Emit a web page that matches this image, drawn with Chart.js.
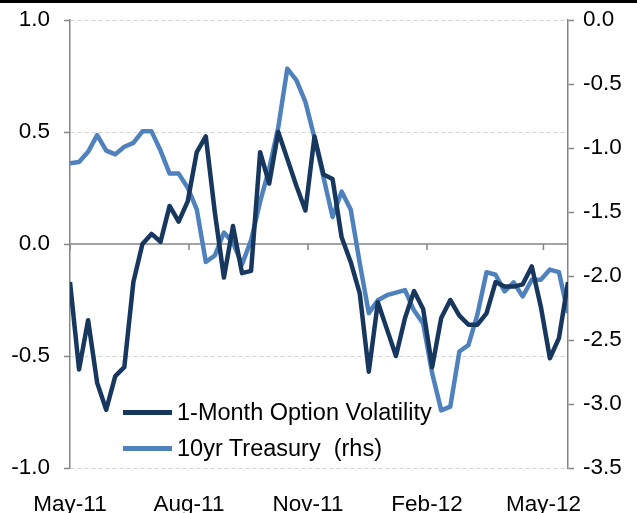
<!DOCTYPE html>
<html><head><meta charset="utf-8">
<script src="https://cdn.jsdelivr.net/npm/chart.js@4/dist/chart.umd.min.js"></script>
<style>
html,body{margin:0;padding:0;background:#fff;}
#wrap{position:relative;width:637px;height:513px;overflow:hidden;background:#fff;}
#topbar{position:absolute;left:0;top:0;width:637px;height:3px;background:#000;}
canvas{position:absolute;left:0;top:0;}
.item{position:absolute;left:123px;height:34px;display:flex;align-items:center;font-family:"Liberation Sans",Arial,sans-serif;font-size:23.5px;color:#000;white-space:pre;}
.sw{width:49px;height:5px;margin-right:5px;}
</style></head>
<body><div id="wrap"><canvas id="c" width="637" height="513"></canvas><div id="topbar"></div></div>
<script>
// weekly observation dates
const weekDates = ["2011-05-01","2011-05-08","2011-05-15","2011-05-22","2011-05-29",
"2011-06-05","2011-06-12","2011-06-19","2011-06-26",
"2011-07-03","2011-07-10","2011-07-17","2011-07-24","2011-07-31",
"2011-08-07","2011-08-14","2011-08-21","2011-08-28",
"2011-09-04","2011-09-11","2011-09-18","2011-09-25",
"2011-10-02","2011-10-09","2011-10-16","2011-10-23","2011-10-30",
"2011-11-06","2011-11-13","2011-11-20","2011-11-27",
"2011-12-04","2011-12-11","2011-12-18","2011-12-25",
"2012-01-01","2012-01-08","2012-01-15","2012-01-22","2012-01-29",
"2012-02-05","2012-02-12","2012-02-19","2012-02-26",
"2012-03-04","2012-03-11","2012-03-18","2012-03-25",
"2012-04-01","2012-04-08","2012-04-15","2012-04-22","2012-04-29",
"2012-05-06","2012-05-13","2012-05-20"];
const seriesNames = ["1-Month Option Volatility", "10yr Treasury  (rhs)"];
// left axis
const optionVol = [-0.17,-0.56,-0.34,-0.62,-0.74,-0.59,-0.55,-0.17,0.00,0.045,
0.01,0.17,0.10,0.19,0.41,0.48,0.14,-0.15,0.08,-0.13,
-0.12,0.41,0.27,0.50,0.38,0.26,0.15,0.48,0.31,0.29,
0.03,-0.08,-0.22,-0.57,-0.26,-0.38,-0.50,-0.33,-0.21,-0.29,
-0.55,-0.33,-0.25,-0.32,-0.36,-0.36,-0.31,-0.17,-0.19,-0.19,
-0.18,-0.10,-0.28,-0.51,-0.42,-0.17];
// right axis
const treasury10y = [-1.12,-1.11,-1.03,-0.90,-1.02,-1.05,-0.99,-0.96,-0.87,-0.87,
-1.02,-1.20,-1.20,-1.31,-1.48,-1.89,-1.84,-1.66,-1.74,-1.91,
-1.72,-1.42,-1.16,-0.84,-0.38,-0.47,-0.64,-0.92,-1.23,-1.54,
-1.34,-1.48,-1.90,-2.29,-2.19,-2.15,-2.13,-2.11,-2.27,-2.37,
-2.76,-3.05,-3.02,-2.59,-2.54,-2.30,-1.97,-1.99,-2.12,-2.05,
-2.16,-2.03,-2.03,-1.95,-1.97,-2.29];
const tickLabels = ["May-11","Aug-11","Nov-11","Feb-12","May-12"];
const tickDates = ["2011-05-01","2011-08-01","2011-11-01","2012-02-01","2012-05-01"];
const leftRange = [-1, 1, 0.5];
const rightRange = [-3.5, 0, 0.5];

const colors = ["#17375E", "#4F81BD"];
const DAY = 86400000;
const t0 = Date.parse(weekDates[0]);
const dayOf = d => (Date.parse(d) - t0) / DAY;
const xs = weekDates.map(dayOf);
const tickDays = tickDates.map(dayOf);
const FONT = "'Liberation Sans', Arial, sans-serif";
const AXIS = "#868686";

const zeroAxis = {
  id: 'zeroAxis',
  beforeDatasetsDraw(chart) {
    const {ctx, chartArea, scales} = chart;
    const y0 = scales.y.getPixelForValue(0);
    ctx.save();
    ctx.strokeStyle = AXIS;
    ctx.lineWidth = 1.5;
    ctx.beginPath();
    ctx.moveTo(chartArea.left, y0);
    ctx.lineTo(chartArea.right, y0);
    tickDays.forEach(d => {
      const px = scales.x.getPixelForValue(d);
      ctx.moveTo(px, y0);
      ctx.lineTo(px, y0 + 6);
    });
    ctx.stroke();
    ctx.restore();
  }
};

const fitY = w => a => { a.width = w; a.paddingTop = 0; a.paddingBottom = 0; };

new Chart(document.getElementById('c'), {
  type: 'line',
  data: {
    datasets: [
      {label: seriesNames[0], data: xs.map((x, i) => ({x, y: optionVol[i]})), yAxisID: 'y',
       borderColor: colors[0], borderWidth: 4.5, pointRadius: 0, tension: 0, borderJoinStyle: 'round'},
      {label: seriesNames[1], data: xs.map((x, i) => ({x, y: treasury10y[i]})), yAxisID: 'y2',
       borderColor: colors[1], borderWidth: 4.5, pointRadius: 0, tension: 0, borderJoinStyle: 'round'}
    ]
  },
  options: {
    responsive: false,
    animation: false,
    events: [],
    layout: {padding: {top: 20, left: 0, right: 0, bottom: 0}},
    plugins: {legend: {display: false}, tooltip: {enabled: false}},
    scales: {
      x: {
        type: 'linear', min: xs[0], max: xs[xs.length - 1],
        afterBuildTicks: a => { a.ticks = tickDays.map(v => ({value: v})); },
        afterFit: a => { a.height = 45; a.paddingLeft = 0; a.paddingRight = 0; },
        ticks: {autoSkip: false, maxRotation: 0, padding: 15, color: '#000',
          font: {family: FONT, size: 22.5},
          callback: v => tickLabels[tickDays.indexOf(v)] ?? ''},
        grid: {display: false}, border: {display: false}
      },
      y: {
        position: 'left', min: leftRange[0], max: leftRange[1],
        afterFit: fitY(70),
        ticks: {stepSize: leftRange[2], padding: 14, color: '#000', font: {family: FONT, size: 22.5},
          callback: v => Number(v).toFixed(1)},
        grid: {color: c => (c.tick && c.tick.value === 0) ? 'rgba(0,0,0,0)' : '#d3d3d3',
          lineWidth: 1, tickLength: 6, tickColor: AXIS, tickWidth: 1.5},
        border: {display: true, color: AXIS, width: 1.5, dash: [4, 3]}
      },
      y2: {
        position: 'right', min: rightRange[0], max: rightRange[1],
        afterFit: fitY(69),
        ticks: {stepSize: rightRange[2], padding: 9, color: '#000', font: {family: FONT, size: 22.5},
          callback: v => Number(v).toFixed(1)},
        grid: {drawOnChartArea: false, tickLength: 6, tickColor: AXIS, tickWidth: 1.5},
        border: {display: true, color: AXIS, width: 1.5}
      }
    }
  },
  plugins: [zeroAxis]
});

// legend built from the series names
const wrap = document.getElementById('wrap');
seriesNames.forEach((name, i) => {
  const it = document.createElement('div');
  it.className = 'item';
  it.style.top = (395 + i * 36) + 'px';
  const sw = document.createElement('span');
  sw.className = 'sw';
  sw.style.background = colors[i];
  const tx = document.createElement('span');
  tx.textContent = name;
  it.appendChild(sw); it.appendChild(tx);
  wrap.appendChild(it);
});
</script>
</body></html>
